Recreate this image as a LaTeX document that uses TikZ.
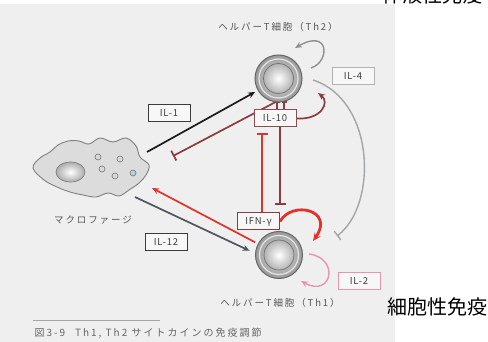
\documentclass[tikz,border=0pt]{standalone}
\usepackage{fontspec}
\setmainfont{Noto Sans CJK JP}
\newfontfamily\spacedfont[LetterSpace=20]{Noto Sans CJK JP}
\newfontfamily\boxfont[LetterSpace=8]{Noto Sans CJK JP}
\usetikzlibrary{arrows.meta,calc}

\definecolor{panel}{HTML}{EFEFEF}
\definecolor{boxfill}{HTML}{F7F7F7}
\definecolor{ink}{HTML}{3C3C3C}
\definecolor{txtgray}{HTML}{555555}
\definecolor{blackline}{HTML}{1A1A1A}
\definecolor{maroon}{HTML}{8C3B3E}
\definecolor{redline}{HTML}{E2332A}
\definecolor{slate}{HTML}{4F565E}
\definecolor{arcgray}{HTML}{A3A6A8}
\definecolor{loopgray}{HTML}{8E9194}
\definecolor{pinkline}{HTML}{E896AE}
\definecolor{ringdark}{HTML}{666666}
\definecolor{blobfill}{HTML}{DCDCDC}
\definecolor{blobline}{HTML}{808080}

\pgfdeclarelayer{backdrop}
\pgfdeclarelayer{lines}
\pgfsetlayers{backdrop,lines,main}

\begin{document}
\begin{tikzpicture}[x=1pt,y=-1pt,
  cellout/.style={circle, minimum size=47pt, inner sep=0pt, draw=ringdark, line width=1pt,
    inner color=white!80!gray, outer color=gray!80, shading=radial},
  cellin/.style={circle, minimum size=30pt, inner sep=0pt, draw=ringdark!90, line width=0.8pt,
    inner color=white, outer color=gray!60, shading=radial},
  cellfont/.style={font=\spacedfont\fontsize{9.5}{11}\selectfont, text=txtgray},
  lbl/.style={draw=#1, fill=boxfill, line width=1pt, minimum width=42pt, minimum height=17pt,
    inner sep=0pt, font=\boxfont\fontsize{9.5}{10}\selectfont, text=ink},
  conn/.style={line width=1.7pt},
  arr/.style={-{Stealth[length=7pt,width=6pt]}},
  inh/.style={-{Bar[width=11pt]}},
]
\useasboundingbox (0,0) rectangle (488,342);
\begin{pgfonlayer}{backdrop}
  \fill[panel] (0,4) rectangle (395,342);
\end{pgfonlayer}

% side titles
\node[font=\fontsize{20}{22}\selectfont, anchor=base] (humoral) at (432,3) {体液性免疫};
\node[font=\fontsize{20}{22}\selectfont] (cellular) at (437,307) {細胞性免疫};

% helper T cells
\node[cellout] (th2) at (278.5,78.5) {};
\node[cellin] (th2core) at (th2) {};
\draw[white!80!gray, line width=1.2pt] (th2) circle (19.5);
\node[cellout] (th1) at (279,255) {};
\node[cellin] (th1core) at (th1) {};
\draw[white!80!gray, line width=1.2pt] (th1) circle (19.5);

\node[cellfont] (th2lbl) at (278,27) {ヘルパーT細胞（Th2）};
\node[cellfont] (th1lbl) at (280,303) {ヘルパーT細胞（Th1）};

% macrophage
\coordinate (mac) at (92,168);
\filldraw[fill=blobfill, draw=blobline, line width=0.9pt] plot[smooth cycle, tension=0.6] coordinates {
  (33,168) (40,158) (50,152) (58,145) (68,141) (79,141) (89,144) (100,138) (113,142)
  (126,138) (136,146) (140,157) (149,165) (146,175) (139,183) (129,190) (119,196)
  (108,193) (96,197) (83,195) (70,192) (57,187) (44,180)};
\shade[inner color=white, outer color=gray!65, draw=blobline, line width=0.7pt]
  (70.5,172) ellipse (14.5 and 10);
\foreach \p in {(98,157),(120,159),(102,169),(115,176)}
  \filldraw[fill=white!70!gray, draw=gray!90!black, line width=0.6pt] \p circle (3);
\filldraw[fill=cyan!25!white!70!gray, draw=gray!90!black, line width=0.6pt] (133,173) circle (3);
\node[cellfont] (maclbl) at (93,220) {マクロファージ};

% cytokine labels
\node[lbl=ink] (il1) at (169,113) {IL-1};
\node[lbl=ink] (il12) at (166,242) {IL-12};
\node[lbl=maroon!70!gray] (il10) at (275,118.5) {IL-10};
\node[lbl=maroon] (ifn) at (258.5,221.5) {IFN-γ};
\node[lbl=gray!60] (il4) at (353,76) {IL-4};
\node[lbl=pinkline] (il2) at (359,281) {IL-2};

% connector end points at the macrophage
\coordinate (m1) at (147,152);
\coordinate (mbar) at (173,156);
\coordinate (mred) at (152,188);
\coordinate (m12) at (135,197);

\begin{pgfonlayer}{lines}
% macrophage -> Th2 (IL-1)
\draw[conn, arr, blackline, shorten >=3pt] (m1) -- (th2.210);
% Th2 -| macrophage (IL-10)
\draw[conn, inh, maroon] (th2.262) -- (mbar);
% Th1 -> macrophage (IFN-gamma)
\draw[conn, arr, redline, shorten <=3pt] (th1.152) -- (mred);
% macrophage -> Th1 (IL-12)
\draw[conn, arr, slate, shorten >=6pt] (m12) -- (th1.176);

% mutual inhibition between IL-10 and IFN-gamma
\coordinate (redtop) at (262,133);
\coordinate (maroonbot) at (280,205);
\draw[conn, inh, redline] (ifn.north -| redtop) -- (redtop);
\draw[conn, inh, maroon] (il10.south -| maroonbot) -- (maroonbot);

% short ticks between IL-10 and Th2
\draw[maroon, line width=1.2pt, -{Bar[width=5pt]}] ($(il10.north)+(2,0)$) -- ++(0,-8);
\draw[maroon, line width=1.2pt, -{Bar[width=5pt]}] ($(il10.north)+(9,0)$) -- ++(0,-8);

% IL-10 -> Th2
\coordinate (th2in) at (318,93);
\draw[conn, arr, maroon] (il10.east) .. controls (322,120) and (330,102) .. (th2in);

% Th2 -| Th1 (IL-4)
\coordinate (arcstart) at (313,80);
\coordinate (arcend) at (337,236);
\draw[line width=1.4pt, arcgray, inh] (arcstart) .. controls (375,100) and (378,205) .. (arcend);

% Th2 self loop
\coordinate (th2out) at (311,68);
\coordinate (th2back) at (295,48);
\draw[line width=1.4pt, loopgray, arr] (th2out) .. controls (330,62) and (330,28) .. (th2back);

% Th1 IFN-gamma self loop
\coordinate (th1in) at (313,241);
\draw[line width=2.8pt, redline, -{Stealth[length=8pt,width=7pt]}] (ifn.east) .. controls (292,200) and (335,210) .. (th1in);

% Th1 IL-2 self loop
\coordinate (th1out) at (309,254);
\coordinate (th1back) at (301,281);
\draw[line width=1.4pt, pinkline, arr] (th1out) .. controls (340,258) and (332,298) .. (th1back);

% figure caption rule
\draw[gray!70, line width=0.8pt] (33,320) -- (160,320);
\end{pgfonlayer}

\node[cellfont, anchor=west, text=gray!80!black, font=\spacedfont\fontsize{10}{11}\selectfont] (caption) at (31,333) {図3-9\quad Th1, Th2 サイトカインの免疫調節};
\end{tikzpicture}
\end{document}
